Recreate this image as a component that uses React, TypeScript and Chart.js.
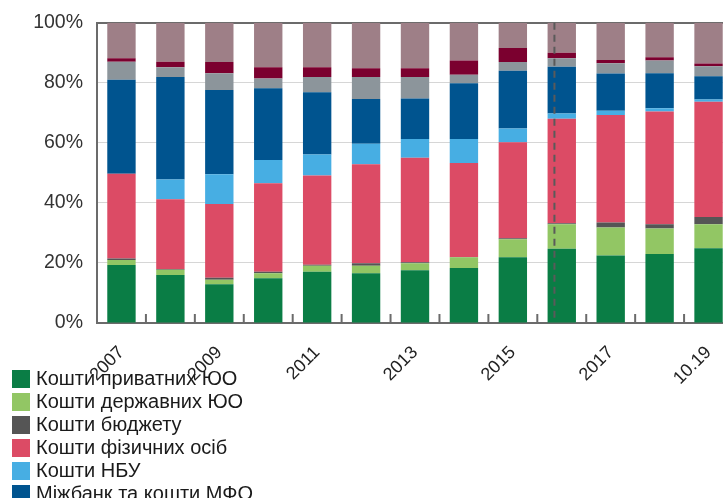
import React, { useEffect, useRef } from "react";
import { Chart, registerables } from "chart.js";

Chart.register(...registerables);

const categories = ["2007", "2008", "2009", "2010", "2011", "2012", "2013", "2014", "2015", "2016", "2017", "2018", "10.19"];

const seriesNames = [
  "Кошти приватних ЮО",
  "Кошти державних ЮО",
  "Кошти бюджету",
  "Кошти фізичних осіб",
  "Кошти НБУ",
  "Міжбанк та кошти МФО",
  "Інші зобов'язання",
  "Субординований борг",
  "Капітал",
];

const privateCorp = [19.3, 16.0, 12.9, 14.9, 17.1, 16.6, 17.6, 18.3, 21.9, 24.7, 22.5, 23.0, 24.9];
const stateCorp = [1.7, 1.7, 1.5, 1.7, 2.0, 2.5, 2.3, 3.6, 6.0, 8.2, 9.3, 8.5, 8.0];
const budget = [0.5, 0.3, 0.7, 0.5, 0.3, 0.8, 0.3, 0.1, 0.3, 0.3, 1.7, 1.4, 2.4];
const households = [28.2, 23.2, 24.5, 29.4, 29.7, 33.0, 34.8, 31.3, 32.0, 34.8, 35.8, 37.5, 38.4];
const nbu = [0, 6.6, 9.9, 7.8, 7.0, 6.8, 6.3, 8.0, 4.6, 1.8, 1.4, 1.1, 0.7];
const interbank = [31.3, 34.1, 28.1, 23.9, 20.7, 14.9, 13.5, 18.5, 19.2, 15.5, 12.4, 11.7, 7.8];
const otherLiab = [6.0, 3.3, 5.6, 3.2, 5.1, 7.3, 7.1, 2.9, 2.9, 2.9, 3.4, 4.2, 3.3];
const subDebt = [1.2, 1.8, 3.7, 3.8, 3.3, 2.9, 2.9, 4.7, 4.7, 1.8, 1.1, 1.1, 0.9];
const capital = [11.8, 13.0, 13.1, 14.8, 14.8, 15.2, 15.2, 12.6, 8.4, 10.0, 12.4, 11.5, 13.6];

const seriesValues = [privateCorp, stateCorp, budget, households, nbu, interbank, otherLiab, subDebt, capital];
const seriesColors = ["#0a7d45", "#92c664", "#555555", "#dc4b65", "#47aee3", "#00548f", "#8c959b", "#7b002f", "#9e7f87"];

const yTicks = [0, 20, 40, 60, 80, 100];
const dashedAt = 9; // category index of the dashed marker
const dashedShift = -0.15;

const FONT = "'Liberation Sans', Arial, sans-serif";

const decorPlugin = {
  id: "decor",
  afterDatasetsDraw(chart: any) {
    const { ctx, chartArea } = chart;
    const xs = chart.scales.x;
    ctx.save();
    ctx.strokeStyle = "#6b6b6b";
    ctx.lineWidth = 2;
    for (let i = 0; i < categories.length - 1; i++) {
      const x = (xs.getPixelForValue(i) + xs.getPixelForValue(i + 1)) / 2;
      ctx.beginPath();
      ctx.moveTo(x, chartArea.bottom - 9);
      ctx.lineTo(x, chartArea.bottom);
      ctx.stroke();
    }
    const step = xs.getPixelForValue(1) - xs.getPixelForValue(0);
    const dx = xs.getPixelForValue(dashedAt) + dashedShift * step;
    ctx.strokeStyle = "#5a5a5a";
    ctx.lineWidth = 2;
    ctx.setLineDash([7, 5]);
    ctx.beginPath();
    ctx.moveTo(dx, chartArea.top);
    ctx.lineTo(dx, chartArea.bottom - 5);
    ctx.stroke();
    ctx.restore();
  },
};

export default function App() {
  const ref = useRef<HTMLCanvasElement>(null);
  useEffect(() => {
    if (!ref.current) return;
    const chart = new Chart(ref.current, {
      type: "bar",
      data: {
        labels: categories,
        datasets: seriesValues.map((vals, i) => ({
          label: seriesNames[i],
          data: vals,
          backgroundColor: seriesColors[i],
          borderWidth: 0,
          categoryPercentage: 1,
          barPercentage: 0.58,
        })),
      },
      options: {
        responsive: false,
        animation: false,
        devicePixelRatio: 1,
        layout: { padding: { top: 12, right: 12, left: 0, bottom: 0 } },
        plugins: { legend: { display: false }, tooltip: { enabled: false } },
        scales: {
          x: {
            stacked: true,
            offset: true,
            grid: { display: false, drawTicks: false },
            border: { display: true, color: "#6b6b6b", width: 2 },
            ticks: {
              autoSkip: false,
              maxRotation: 45,
              minRotation: 45,
              padding: 19,
              color: "#222",
              font: { family: FONT, size: 18 },
              callback: (_v: any, i: number) => (i % 2 === 0 ? categories[i] : ""),
            },
            afterFit: (s: any) => {
              s.height = 175;
            },
          },
          y: {
            stacked: true,
            min: 0,
            max: 100,
            afterBuildTicks: (s: any) => {
              s.ticks = yTicks.map((v) => ({ value: v }));
            },
            grid: {
              drawTicks: false,
              color: (c: any) => (c.tick && c.tick.value === 100 ? "#6b6b6b" : c.tick && c.tick.value === 0 ? "rgba(0,0,0,0)" : "#d6d6d6"),
              lineWidth: (c: any) => (c.tick && c.tick.value === 100 ? 2 : 1),
            },
            border: { display: true, color: "#6b6b6b", width: 2 },
            ticks: {
              padding: 14,
              color: "#333",
              font: { family: FONT, size: 19.5 },
              callback: (v: any) => v + "%",
            },
            afterFit: (s: any) => {
              s.width = 97;
            },
          },
        },
      },
      plugins: [decorPlugin],
    });
    return () => chart.destroy();
  }, []);

  return (
    <div style={{ position: "fixed", left: 0, top: 0, width: 723, height: 498, overflow: "hidden", background: "#fff" }}>
      <canvas ref={ref} width={745} height={501} style={{ position: "absolute", left: 0, top: -3, width: 745, height: 501 }} />
      <div style={{ position: "absolute", left: 12, top: 367, fontFamily: FONT, fontSize: 20, color: "#1a1a1a" }}>
        {seriesNames.map((n, i) => (
          <div key={n} style={{ display: "flex", alignItems: "center", height: 23, whiteSpace: "nowrap" }}>
            <span style={{ display: "inline-block", width: 18, height: 18, background: seriesColors[i], marginRight: 6 }} />
            <span>{n}</span>
          </div>
        ))}
      </div>
    </div>
  );
}
